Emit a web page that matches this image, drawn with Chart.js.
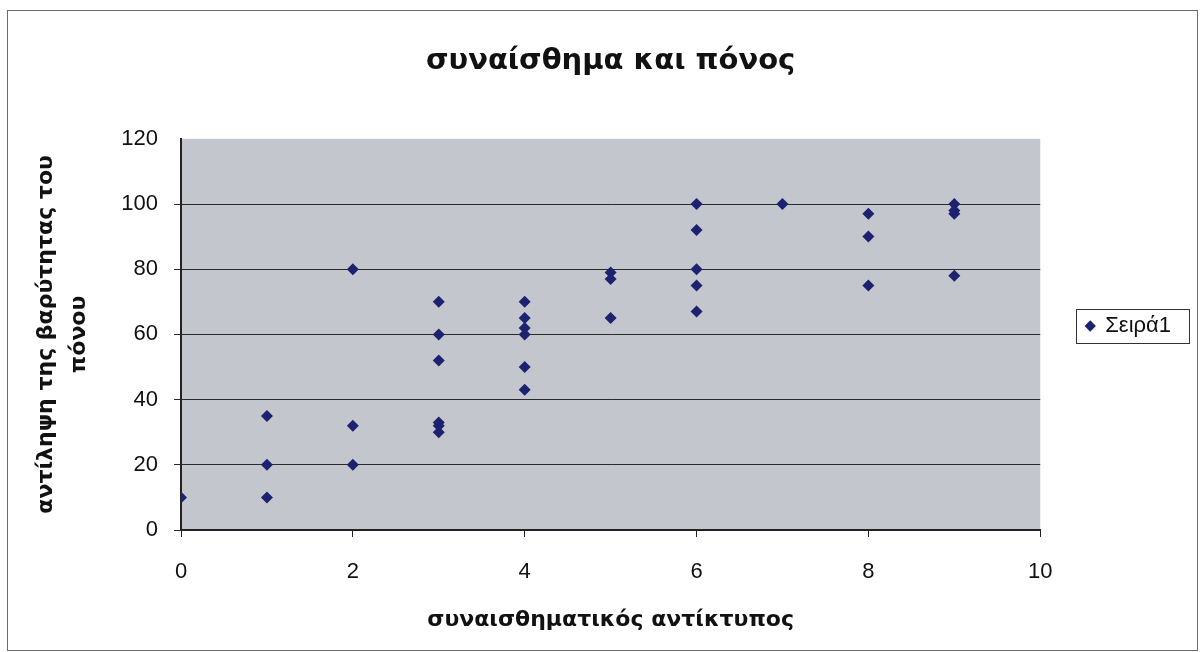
<!DOCTYPE html>
<html lang="el">
<head>
  <meta charset="UTF-8">
  <title>συναίσθημα και πόνος</title>
  <style>
    body { margin: 0; background: #fff; }
    #wrap { width: 1203px; height: 652px; position: relative; }
  </style>
</head>
<body>
  <div id="wrap"><canvas id="chart" width="1203" height="652"></canvas></div>

  <script src="https://cdn.jsdelivr.net/npm/chart.js"></script>
  <script>
    // emotional impact (x) and perceived pain severity (y), one entry per respondent
    const impact = [0, 1, 1, 1, 2, 2, 2, 3, 3, 3, 3, 3, 3, 4, 4, 4, 4, 4, 4, 5, 5, 5, 6, 6, 6, 6, 6, 7, 8, 8, 8, 9, 9, 9, 9];
    const pain   = [10, 35, 20, 10, 80, 32, 20, 70, 60, 52, 33, 32, 30, 70, 65, 62, 60, 50, 43, 79, 77, 65, 100, 92, 80, 75, 67, 100, 97, 90, 75, 100, 98, 97, 78];
    const xTicks = [0, 2, 4, 6, 8, 10];
    const yTicks = [0, 20, 40, 60, 80, 100, 120];
    const seriesName = 'Σειρά1';

    const points = impact.map((x, i) => ({ x: x, y: pain[i] }));

    const navy = '#1c2270';
    const font = "'Liberation Sans', Arial, sans-serif";
    const boldFont = "'DejaVu Sans', Tahoma, Verdana, sans-serif";

    // white page, outer frame, grey plot area, legend frame
    const excelLook = {
      id: 'excelLook',
      beforeDraw(chart) {
        const c = chart.ctx, a = chart.chartArea;
        c.save();
        c.fillStyle = '#fff';
        c.fillRect(0, 0, chart.width, chart.height);
        c.strokeStyle = '#6b6b6b';
        c.lineWidth = 1;
        c.strokeRect(7.5, 10.5, 1190, 640);
        c.fillStyle = '#c4c6cd';
        c.fillRect(a.left, a.top, a.right - a.left, a.bottom - a.top);
        c.restore();
      },
      afterDraw(chart) {
        const hb = chart.legend.legendHitBoxes[0];
        if (!hb) return;
        const c = chart.ctx;
        const x0 = Math.round(hb.left - 10) + 0.5;
        const x1 = Math.round(hb.left + hb.width + 18) + 0.5;
        const yc = hb.top + hb.height / 2;
        c.save();
        c.strokeStyle = '#333';
        c.lineWidth = 1;
        c.strokeRect(x0, Math.round(yc - 17) + 0.5, x1 - x0, 34);
        c.restore();
      }
    };

    new Chart(document.getElementById('chart'), {
      type: 'scatter',
      data: {
        datasets: [{
          label: seriesName,
          data: points,
          pointStyle: 'rectRot',
          pointRadius: 6,
          pointHoverRadius: 6,
          backgroundColor: navy,
          borderColor: navy,
          borderWidth: 0
        }]
      },
      options: {
        responsive: false,
        animation: false,
        layout: { padding: { left: 0, right: 22, top: 0, bottom: 0 } },
        plugins: {
          title: {
            display: true,
            fullSize: false,
            text: 'συναίσθημα και πόνος',
            color: '#111',
            font: { family: boldFont, size: 29, weight: 'bold' },
            padding: { top: 44, bottom: 60 }
          },
          legend: {
            position: 'right',
            labels: {
              usePointStyle: true,
              pointStyle: 'rectRot',
              boxWidth: 8,
              boxHeight: 8,
              color: '#111',
              font: { family: font, size: 22 },
              padding: 46
            }
          },
          tooltip: { enabled: false }
        },
        scales: {
          x: {
            type: 'linear',
            min: 0,
            max: 10,
            afterBuildTicks(scale) { scale.ticks = xTicks.map(v => ({ value: v })); },
            afterFit(scale) { scale.height = 122; },
            grid: { drawOnChartArea: false, tickLength: 7, color: '#222' },
            border: { color: '#222', width: 2 },
            ticks: { color: '#111', font: { family: font, size: 22 }, padding: 22 },
            title: {
              display: true,
              text: 'συναισθηματικός αντίκτυπος',
              color: '#111',
              font: { family: boldFont, size: 22, weight: 'bold' },
              padding: { bottom: 19 }
            }
          },
          y: {
            type: 'linear',
            min: 0,
            max: 120,
            afterBuildTicks(scale) { scale.ticks = yTicks.map(v => ({ value: v })); },
            afterFit(scale) { scale.width = 181; },
            grid: {
              tickLength: 7,
              color: ctx => (ctx.tick && ctx.tick.value === 120) ? 'rgba(0,0,0,0)' : '#2a2a2a',
              lineWidth: 1
            },
            border: { color: '#222', width: 2 },
            ticks: { color: '#111', font: { family: font, size: 22 }, padding: 16 },
            title: {
              display: true,
              text: ['αντίληψη της βαρύτητας του', 'πόνου'],
              color: '#111',
              font: { family: boldFont, size: 22, weight: 'bold', lineHeight: 1.5 },
              padding: { top: 30 }
            }
          }
        }
      },
      plugins: [excelLook]
    });
  </script>
</body>
</html>
